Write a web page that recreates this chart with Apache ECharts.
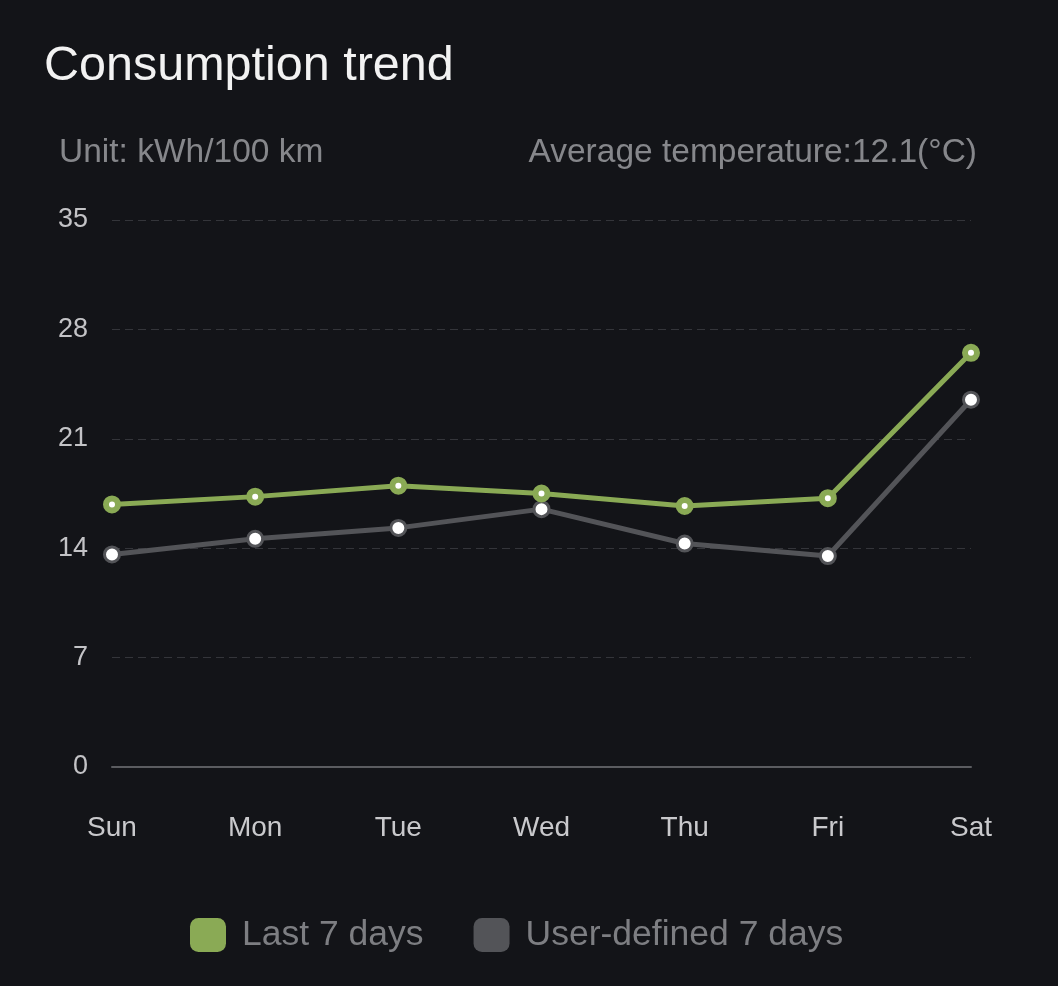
<!DOCTYPE html>
<html><head><meta charset="utf-8">
<script src="https://cdn.jsdelivr.net/npm/echarts@6/dist/echarts.min.js"></script>
<style>html,body{margin:0;padding:0;background:#131418;}#c{width:1058px;height:986px;}</style>
</head><body><div id="c"></div>
<script>
const categories = ['Sun','Mon','Tue','Wed','Thu','Fri','Sat'];
const last7 = [16.8, 17.3, 18.0, 17.5, 16.7, 17.2, 26.5];
const user7 = [13.6, 14.6, 15.3, 16.5, 14.3, 13.5, 23.5];
const yTicks = [0, 7, 14, 21, 28, 35];
const seriesNames = ['Last 7 days', 'User-defined 7 days'];
const seriesColors = ['#8aaa55', '#535458'];

const chart = echarts.init(document.getElementById('c'), null, {renderer:'canvas'});
const font = '"Liberation Sans", Arial, sans-serif';
chart.setOption({
  backgroundColor: '#131418',
  animation: false,
  title: [
    {text: 'Consumption trend', left: 44, top: 42, padding: 0, textStyle: {color: '#f2f2f2', fontSize: 48.5, fontWeight: 'normal', fontFamily: font}},
    {text: 'Unit: kWh/100 km', left: 59, top: 136, padding: 0, textStyle: {color: '#86878b', fontSize: 33.5, fontWeight: 'normal', fontFamily: font}},
    {text: 'Average temperature:12.1(°C)', right: 81, top: 136, padding: 0, textStyle: {color: '#86878b', fontSize: 33.5, fontWeight: 'normal', fontFamily: font}}
  ],
  grid: {left: 112, right: 87, top: 220, bottom: 219, containLabel: false},
  legend: {
    top: 917, left: 190, itemWidth: 36, itemHeight: 34, itemGap: 50, padding: 0,
    icon: 'roundRect',
    textStyle: {color: '#7d7e82', fontSize: 35.5, fontFamily: font, padding: [0, 0, 0, 11]},
    data: seriesNames.map((n, i) => ({name: n, itemStyle: {color: seriesColors[i], borderWidth: 0}}))
  },
  xAxis: {
    type: 'category', data: categories, boundaryGap: false,
    axisLine: {show: true, lineStyle: {color: '#5b5c60', width: 2}},
    axisTick: {show: false},
    axisLabel: {color: '#c9c9cc', fontSize: 28, margin: 47, fontFamily: font}
  },
  yAxis: {
    type: 'value', min: yTicks[0], max: yTicks[yTicks.length-1], interval: 7,
    axisLine: {show: false}, axisTick: {show: false},
    axisLabel: {color: '#c3c3c6', fontSize: 27, margin: 24, fontFamily: font},
    splitLine: {show: true, lineStyle: {color: '#34353a', type: [8, 5], width: 1}}
  },
  series: [
    {
      name: seriesNames[0], type: 'line', data: last7, z: 3,
      symbol: 'circle', symbolSize: 12,
      lineStyle: {color: seriesColors[0], width: 5},
      itemStyle: {color: '#ffffff', borderColor: seriesColors[0], borderWidth: 6}
    },
    {
      name: seriesNames[1], type: 'line', data: user7, z: 2,
      symbol: 'circle', symbolSize: 15,
      lineStyle: {color: seriesColors[1], width: 5},
      itemStyle: {color: '#ffffff', borderColor: seriesColors[1], borderWidth: 3}
    }
  ]
});
</script></body></html>
